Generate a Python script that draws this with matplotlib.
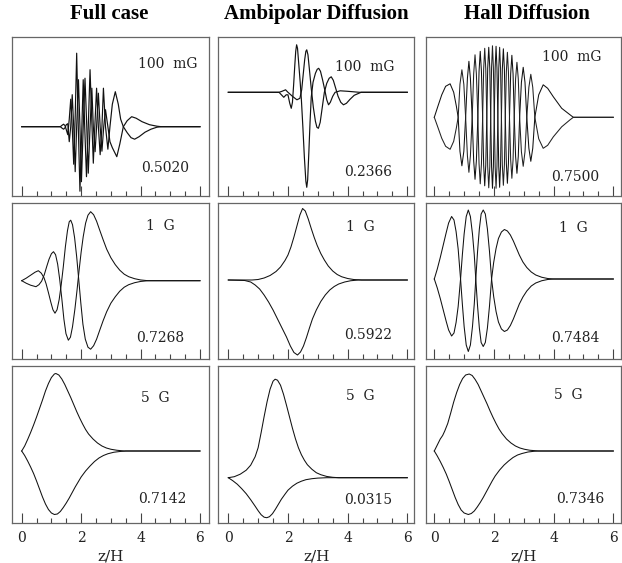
import matplotlib
matplotlib.use("Agg")
import matplotlib.pyplot as plt
from matplotlib.ticker import MultipleLocator

# column titles and panel labels
col_titles = ["Full case", "Ambipolar Diffusion", "Hall Diffusion"]
field_labels = ["100  mG", "1  G", "5  G"]
growth_rates = [["0.5020", "0.2366", "0.7500"],
                ["0.7268", "0.5922", "0.7484"],
                ["0.7142", "0.0315", "0.7346"]]
tick_vals = [0, 2, 4, 6]

# ---- row 1: 100 mG ----
full_100_a = [(0, 0), (1.30, 0), (1.36, 0.03), (1.41, 0.05), (1.46, 0.02), (1.50, -0.06),
              (1.55, -0.16), (1.60, 0.15), (1.65, 0.55), (1.70, 0.0), (1.75, -0.75), (1.80, 0.2),
              (1.85, 1.47), (1.90, 0.1), (1.96, -1.29), (2.02, -0.1), (2.07, 0.94), (2.12, 0.0),
              (2.18, -1.0), (2.24, 0.0), (2.30, 1.14), (2.36, 0.1), (2.41, -0.73), (2.46, 0.0),
              (2.52, 0.77), (2.58, 0.0), (2.64, -0.56), (2.70, 0.0), (2.75, 0.77), (2.82, 0.0),
              (2.90, -0.45), (2.97, 0.0), (3.05, 0.45), (3.15, 0.70), (3.25, 0.45), (3.33, 0.15),
              (3.42, 0.0), (3.55, -0.12), (3.68, -0.22), (3.80, -0.25), (3.95, -0.20),
              (4.15, -0.11), (4.35, -0.05), (4.55, -0.01), (4.70, 0), (6, 0)]
full_100_b = [(0, 0), (1.30, 0), (1.36, -0.03), (1.41, -0.05), (1.46, -0.02), (1.50, 0.04),
              (1.55, 0.06), (1.60, -0.30), (1.65, 0.0), (1.70, 0.64), (1.75, 0.0), (1.80, -0.90),
              (1.85, 0.0), (1.91, 0.94), (1.96, 0.0), (2.01, -1.10), (2.07, 0.0), (2.13, 0.97),
              (2.19, 0.0), (2.24, -0.93), (2.30, 0.0), (2.36, 0.77), (2.41, 0.0), (2.47, -0.50),
              (2.52, 0.0), (2.58, 0.67), (2.64, 0.0), (2.70, -0.49), (2.76, 0.0), (2.82, 0.34),
              (2.90, 0.0), (2.97, -0.30), (3.05, -0.42), (3.20, -0.60), (3.30, -0.35), (3.42, 0.0),
              (3.55, 0.12), (3.70, 0.20), (3.85, 0.17), (4.05, 0.10), (4.30, 0.04), (4.55, 0.01),
              (4.70, 0), (6, 0)]

amb_100_p = [(0, 0), (1.70, 0), (1.78, -0.05), (1.86, -0.10), (1.94, -0.05), (2.00, -0.05),
             (2.06, -0.22), (2.11, -0.32), (2.15, -0.20), (2.19, 0.15), (2.23, 0.55), (2.26, 0.82),
             (2.29, 0.95), (2.32, 0.88), (2.36, 0.58), (2.41, 0.20), (2.45, -0.15), (2.50, -0.70),
             (2.55, -1.30), (2.60, -1.78), (2.63, -1.90), (2.66, -1.75), (2.70, -1.20),
             (2.74, -0.60), (2.78, -0.10), (2.84, 0.20), (2.92, 0.38), (2.98, 0.46), (3.03, 0.48),
             (3.09, 0.42), (3.16, 0.25), (3.24, 0.03), (3.30, -0.15), (3.36, -0.25), (3.42, -0.20),
             (3.50, -0.08), (3.58, 0.0), (3.75, 0.03), (4.00, 0.02), (4.40, 0), (6, 0)]
amb_100_q = [(0, 0), (1.70, 0), (1.80, 0.02), (1.92, 0.05), (2.00, 0.0), (2.15, -0.08),
             (2.30, -0.15), (2.40, -0.12), (2.46, 0.05), (2.51, 0.35), (2.56, 0.65), (2.60, 0.82),
             (2.63, 0.85), (2.67, 0.75), (2.72, 0.45), (2.78, 0.08), (2.85, -0.30), (2.92, -0.58),
             (2.97, -0.70), (3.02, -0.72), (3.08, -0.60), (3.15, -0.30), (3.22, 0.0), (3.30, 0.18),
             (3.38, 0.28), (3.45, 0.31), (3.52, 0.24), (3.60, 0.08), (3.68, -0.08), (3.77, -0.20),
             (3.86, -0.25), (3.96, -0.22), (4.08, -0.14), (4.22, -0.06), (4.45, 0), (6, 0)]

hall_100_z = [0, 0.12, 0.25, 0.38, 0.53, 0.65, 0.74,
              0.80, 0.86, 0.925, 0.99, 1.05, 1.11, 1.16, 1.21, 1.27, 1.32, 1.365, 1.41,
              1.46, 1.50, 1.54, 1.58, 1.62, 1.655, 1.69, 1.725, 1.76, 1.79, 1.825, 1.86,
              1.89, 1.92, 1.95, 1.98, 2.01, 2.04, 2.07, 2.10, 2.13, 2.16, 2.19, 2.22,
              2.25, 2.28, 2.315, 2.35, 2.38, 2.415, 2.45, 2.485, 2.52, 2.56, 2.60, 2.64,
              2.68, 2.725, 2.77, 2.815, 2.86, 2.92, 2.98, 3.04, 3.10, 3.17, 3.235, 3.30,
              3.37, 3.50, 3.65, 3.80, 3.99, 4.27, 4.55, 4.66, 6.0]
hall_100_a = [0, 0.22, 0.45, 0.62, 0.67, 0.50, 0.22,
              0, -0.68, -0.97, -0.68, 0, 0.78, 1.12, 0.78, 0, -0.87, -1.24, -0.87,
              0, 0.92, 1.32, 0.92, 0, -0.96, -1.37, -0.96, 0, 0.98, 1.40, 0.98,
              0, -0.99, -1.42, -0.99, 0, 0.99, 1.42, 0.99, 0, -0.98, -1.40, -0.98,
              0, 0.96, 1.37, 0.96, 0, -0.92, -1.32, -0.92, 0, 0.87, 1.24, 0.87,
              0, -0.78, -1.12, -0.78, 0, 0.70, 1.00, 0.70, 0, -0.62, -0.88, -0.62,
              0, 0.45, 0.65, 0.58, 0.41, 0.18, 0.05, 0, 0]
hall_100_b = [0, -0.20, -0.42, -0.58, -0.64, -0.48, -0.21,
              0, 0.66, 0.95, 0.66, 0, -0.77, -1.10, -0.77, 0, 0.87, 1.25, 0.87,
              0, -0.93, -1.33, -0.93, 0, 0.97, 1.38, 0.97, 0, -0.99, -1.41, -0.99,
              0, 1.00, 1.43, 1.00, 0, -0.99, -1.42, -0.99, 0, 0.98, 1.40, 0.98,
              0, -0.95, -1.36, -0.95, 0, 0.91, 1.30, 0.91, 0, -0.85, -1.22, -0.85,
              0, 0.77, 1.10, 0.77, 0, -0.69, -0.98, -0.69, 0, 0.60, 0.86, 0.60,
              0, -0.43, -0.62, -0.56, -0.39, -0.19, -0.05, 0, 0]

# ---- row 2: 1 G ----
full_1g_a = [(0, 0), (0.15, 0.05), (0.30, 0.11), (0.45, 0.17), (0.56, 0.20), (0.66, 0.15),
             (0.75, 0.06), (0.82, -0.06), (0.90, -0.24), (0.98, -0.43), (1.05, -0.58),
             (1.12, -0.65), (1.19, -0.58), (1.26, -0.38), (1.33, -0.08), (1.40, 0.28),
             (1.47, 0.68), (1.54, 1.00), (1.60, 1.18), (1.65, 1.21), (1.71, 1.12), (1.78, 0.86),
             (1.85, 0.48), (1.92, 0.02), (1.99, -0.45), (2.06, -0.87), (2.14, -1.17),
             (2.23, -1.33), (2.32, -1.37), (2.42, -1.30), (2.52, -1.17), (2.62, -1.00),
             (2.74, -0.80), (2.86, -0.62), (3.00, -0.45), (3.15, -0.32), (3.30, -0.21),
             (3.45, -0.13), (3.60, -0.08), (3.80, -0.04), (4.00, -0.015), (4.25, 0), (6, 0)]
full_1g_b = [(0, 0), (0.15, -0.05), (0.30, -0.09), (0.48, -0.12), (0.58, -0.08), (0.67, -0.01),
             (0.76, 0.12), (0.84, 0.28), (0.92, 0.43), (1.00, 0.54), (1.07, 0.58), (1.14, 0.52),
             (1.21, 0.33), (1.28, 0.02), (1.35, -0.36), (1.42, -0.77), (1.49, -1.06),
             (1.57, -1.19), (1.64, -1.13), (1.71, -0.92), (1.79, -0.57), (1.86, -0.20),
             (1.93, 0.20), (2.00, 0.57), (2.07, 0.88), (2.15, 1.15), (2.23, 1.31), (2.32, 1.38),
             (2.42, 1.32), (2.52, 1.19), (2.62, 1.02), (2.74, 0.82), (2.86, 0.63), (3.00, 0.46),
             (3.15, 0.32), (3.30, 0.21), (3.45, 0.13), (3.60, 0.08), (3.80, 0.04), (4.00, 0.015),
             (4.25, 0), (6, 0)]

amb_1g_a = [(0, 0), (0.80, 0), (1.00, 0.01), (1.20, 0.04), (1.40, 0.09), (1.60, 0.17),
            (1.75, 0.26), (1.90, 0.39), (2.00, 0.50), (2.10, 0.66), (2.20, 0.86), (2.30, 1.08),
            (2.40, 1.30), (2.49, 1.43), (2.58, 1.38), (2.68, 1.22), (2.78, 1.03), (2.88, 0.85),
            (2.98, 0.69), (3.10, 0.53), (3.22, 0.40), (3.35, 0.28), (3.50, 0.18), (3.65, 0.11),
            (3.80, 0.065), (4.00, 0.03), (4.20, 0.01), (4.47, 0), (6, 0)]
amb_1g_b = [(0, 0), (0.55, -0.01), (0.75, -0.04), (0.90, -0.10), (1.05, -0.18), (1.20, -0.30),
            (1.35, -0.44), (1.50, -0.60), (1.65, -0.78), (1.80, -0.96), (1.95, -1.14),
            (2.08, -1.32), (2.20, -1.45), (2.32, -1.50), (2.42, -1.44), (2.52, -1.32),
            (2.62, -1.15), (2.72, -0.96), (2.82, -0.78), (2.95, -0.60), (3.10, -0.43),
            (3.25, -0.30), (3.40, -0.20), (3.55, -0.13), (3.70, -0.08), (3.90, -0.04),
            (4.10, -0.015), (4.36, 0), (6, 0)]

hall_1g_a = [(0, 0), (0.10, 0.20), (0.20, 0.43), (0.30, 0.68), (0.40, 0.93), (0.48, 1.12),
             (0.58, 1.25), (0.66, 1.18), (0.73, 0.95), (0.80, 0.60), (0.88, 0), (0.94, -0.50),
             (1.00, -0.95), (1.07, -1.32), (1.14, -1.45), (1.21, -1.32), (1.28, -0.95),
             (1.34, -0.50), (1.39, 0), (1.45, 0.55), (1.51, 1.00), (1.57, 1.30), (1.64, 1.38),
             (1.71, 1.30), (1.78, 1.00), (1.85, 0.55), (1.92, 0), (1.99, -0.35), (2.07, -0.65),
             (2.15, -0.86), (2.25, -1.00), (2.35, -1.05), (2.45, -1.02), (2.55, -0.93),
             (2.65, -0.80), (2.75, -0.65), (2.85, -0.50), (2.97, -0.36), (3.10, -0.24),
             (3.25, -0.14), (3.40, -0.08), (3.60, -0.035), (3.80, -0.01), (4.00, 0), (6, 0)]
hall_1g_b = [(0, 0), (0.10, -0.18), (0.20, -0.39), (0.30, -0.62), (0.40, -0.85), (0.48, -1.02),
             (0.58, -1.14), (0.66, -1.08), (0.73, -0.87), (0.80, -0.55), (0.88, 0), (0.94, 0.48),
             (1.00, 0.90), (1.07, 1.25), (1.14, 1.38), (1.21, 1.25), (1.28, 0.90), (1.34, 0.48),
             (1.39, 0), (1.45, -0.54), (1.51, -0.98), (1.57, -1.27), (1.64, -1.35), (1.71, -1.27),
             (1.78, -0.98), (1.85, -0.54), (1.92, 0), (1.99, 0.33), (2.07, 0.61), (2.15, 0.81),
             (2.25, 0.94), (2.35, 0.99), (2.45, 0.96), (2.55, 0.88), (2.65, 0.76), (2.75, 0.62),
             (2.85, 0.48), (2.97, 0.34), (3.10, 0.23), (3.25, 0.14), (3.40, 0.08), (3.60, 0.035),
             (3.80, 0.01), (4.00, 0), (6, 0)]

# ---- row 3: 5 G ----
full_5g_a = [(0, 0), (0.10, 0.10), (0.20, 0.23), (0.30, 0.37), (0.40, 0.52), (0.50, 0.68),
             (0.60, 0.85), (0.70, 1.02), (0.80, 1.20), (0.90, 1.35), (1.00, 1.47), (1.10, 1.54),
             (1.15, 1.55), (1.25, 1.52), (1.35, 1.44), (1.45, 1.33), (1.55, 1.20), (1.65, 1.07),
             (1.75, 0.93), (1.85, 0.79), (1.95, 0.66), (2.05, 0.54), (2.15, 0.43), (2.25, 0.34),
             (2.40, 0.24), (2.55, 0.16), (2.70, 0.10), (2.85, 0.06), (3.00, 0.035),
             (3.20, 0.015), (3.45, 0), (6, 0)]
full_5g_b = [(0, 0), (0.10, -0.09), (0.20, -0.20), (0.30, -0.32), (0.40, -0.45), (0.50, -0.60),
             (0.60, -0.76), (0.70, -0.92), (0.80, -1.06), (0.90, -1.17), (1.00, -1.24),
             (1.10, -1.27), (1.20, -1.26), (1.30, -1.21), (1.40, -1.13), (1.50, -1.04),
             (1.60, -0.94), (1.70, -0.83), (1.80, -0.72), (1.90, -0.62), (2.00, -0.52),
             (2.15, -0.40), (2.30, -0.30), (2.45, -0.21), (2.60, -0.14), (2.75, -0.09),
             (2.90, -0.055), (3.10, -0.025), (3.30, -0.01), (3.50, 0), (6, 0)]

amb_5g_a = [(0, 0), (0.20, 0.02), (0.40, 0.07), (0.60, 0.15), (0.75, 0.25), (0.90, 0.42),
            (1.00, 0.60), (1.10, 0.90), (1.20, 1.22), (1.30, 1.52), (1.40, 1.77), (1.50, 1.93),
            (1.57, 1.97), (1.65, 1.95), (1.75, 1.85), (1.85, 1.67), (1.95, 1.45), (2.05, 1.22),
            (2.15, 0.99), (2.25, 0.78), (2.35, 0.60), (2.45, 0.46), (2.55, 0.35), (2.65, 0.26),
            (2.80, 0.17), (2.95, 0.10), (3.10, 0.06), (3.30, 0.025), (3.50, 0.008), (3.70, 0),
            (6, 0)]
amb_5g_b = [(0, 0), (0.15, -0.06), (0.30, -0.13), (0.45, -0.22), (0.60, -0.32), (0.75, -0.44),
            (0.90, -0.57), (1.00, -0.66), (1.10, -0.74), (1.20, -0.79), (1.29, -0.80),
            (1.38, -0.78), (1.48, -0.72), (1.58, -0.63), (1.68, -0.53), (1.78, -0.43),
            (1.90, -0.33), (2.00, -0.25), (2.15, -0.17), (2.30, -0.11), (2.45, -0.07),
            (2.60, -0.04), (2.80, -0.02), (3.00, -0.008), (3.30, 0), (6, 0)]

hall_5g_a = [(0, 0), (0.10, 0.12), (0.20, 0.24), (0.28, 0.31), (0.35, 0.40), (0.45, 0.55),
             (0.55, 0.76), (0.65, 0.98), (0.75, 1.17), (0.85, 1.33), (0.95, 1.45), (1.05, 1.52),
             (1.17, 1.54), (1.27, 1.51), (1.37, 1.43), (1.47, 1.33), (1.57, 1.20), (1.67, 1.07),
             (1.77, 0.94), (1.87, 0.80), (1.97, 0.67), (2.07, 0.55), (2.17, 0.44), (2.27, 0.35),
             (2.42, 0.24), (2.57, 0.16), (2.72, 0.10), (2.87, 0.06), (3.02, 0.035),
             (3.20, 0.015), (3.50, 0), (6, 0)]
hall_5g_b = [(0, 0), (0.10, -0.10), (0.20, -0.21), (0.30, -0.33), (0.40, -0.46), (0.50, -0.61),
             (0.60, -0.77), (0.70, -0.93), (0.80, -1.07), (0.90, -1.18), (1.00, -1.24),
             (1.14, -1.27), (1.24, -1.25), (1.34, -1.20), (1.44, -1.12), (1.54, -1.03),
             (1.64, -0.93), (1.74, -0.82), (1.84, -0.71), (1.94, -0.60), (2.04, -0.50),
             (2.19, -0.38), (2.34, -0.28), (2.49, -0.20), (2.64, -0.13), (2.79, -0.08),
             (2.94, -0.05), (3.14, -0.02), (3.35, -0.005), (3.50, 0), (6, 0)]

# ---- layout (pixels of the 622x563 image) ----
W, H = 622, 563
cols_px = [(12.3, 209.3), (218.3, 414.3), (425.7, 621.0)]
tick0_px = [(21.7, 200.0), (228.3, 407.3), (434.3, 613.3)]
rows_px = [(37, 196), (203, 359), (366, 523)]
base_px = [[126.7, 92.3, 117.3], [280.7, 280.0, 279.0], [451.0, 477.7, 451.0]]
label_pos = [[(168, 64), (365, 67), (572, 57)],
             [(160, 226), (360, 227), (573, 228)],
             [(155, 398), (360, 396), (568, 395)]]
rate_pos = [[(165, 168), (368, 172), (575, 177)],
            [(160, 338), (368, 335), (575, 338)],
            [(162, 499), (368, 500), (580, 499)]]
title_x = [109, 316, 527]

panels = [[(full_100_a, full_100_b), (amb_100_p, amb_100_q), None],
          [(full_1g_a, full_1g_b), (amb_1g_a, amb_1g_b), (hall_1g_a, hall_1g_b)],
          [(full_5g_a, full_5g_b), (amb_5g_a, amb_5g_b), (hall_5g_a, hall_5g_b)]]

serif = "DejaVu Serif"
fig = plt.figure(figsize=(W / 100, H / 100), dpi=100)


def fx(px):
    return px / W


def fy(py):
    return 1 - py / H


for r in range(3):
    y0, y1 = rows_px[r]
    for c in range(3):
        x0, x1 = cols_px[c]
        ax = fig.add_axes([fx(x0), fy(y1), (x1 - x0) / W, (y1 - y0) / H])
        t0, t6 = tick0_px[c]
        s = (t6 - t0) / 6
        ax.set_xlim((x0 - t0) / s, (x1 - t0) / s)
        b = base_px[r][c]
        ax.set_ylim(-(y1 - b) / 50, (b - y0) / 50)

        if r == 0 and c == 2:
            ax.plot(hall_100_z, hall_100_a, color="#111", lw=0.75)
            ax.plot(hall_100_z, hall_100_b, color="#222", lw=0.75)
        else:
            lw = 0.85 if r == 0 else 0.75
            for curve in panels[r][c]:
                zs = [p[0] for p in curve]
                vs = [p[1] for p in curve]
                ax.plot(zs, vs, color="#111", lw=lw)

        ax.xaxis.set_major_locator(MultipleLocator(2))
        ax.xaxis.set_minor_locator(MultipleLocator(0.5))
        ax.tick_params(axis="x", which="major", direction="in", length=7, width=0.8,
                       color="#444", top=False, pad=6, labelsize=10, labelcolor="#222")
        ax.tick_params(axis="x", which="minor", direction="in", length=3.5, width=0.8,
                       color="#444", top=False)
        ax.tick_params(axis="y", left=False, labelleft=False)
        if r == 2:
            ax.set_xticks(tick_vals)
            ax.set_xticklabels([str(t) for t in tick_vals], fontfamily=serif)
        else:
            ax.tick_params(axis="x", labelbottom=False)
        for sp in ax.spines.values():
            sp.set_color("#666")
            sp.set_linewidth(0.9)

        lx, ly = label_pos[r][c]
        fig.text(fx(lx), fy(ly), field_labels[r], ha="center", va="center",
                 fontsize=10, family=serif, color="#222")
        gx, gy = rate_pos[r][c]
        fig.text(fx(gx), fy(gy), growth_rates[r][c], ha="center", va="center",
                 fontsize=10, family=serif, color="#222")

    if r == 2:
        for c in range(3):
            x0, x1 = cols_px[c]
            fig.text(fx((x0 + x1) / 2), fy(557), "z/H", ha="center", va="center",
                     fontsize=11, family=serif, color="#222")

for c in range(3):
    fig.text(fx(title_x[c]), fy(14), col_titles[c], ha="center", va="center",
             fontsize=15, fontweight="bold", family="Liberation Serif")

fig.savefig("out.png", dpi=100)
